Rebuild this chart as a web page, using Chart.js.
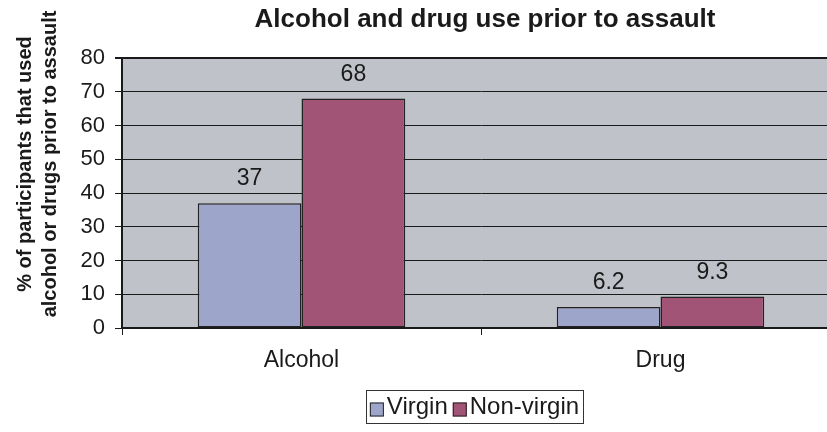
<!DOCTYPE html>
<html>
<head>
<meta charset="utf-8">
<script src="https://cdn.jsdelivr.net/npm/chart.js@4.4.0/dist/chart.umd.min.js"></script>
<style>
  html, body { margin: 0; padding: 0; overflow: hidden; background: #fff; }
  #wrap { width: 928px; height: 432px; }
</style>
</head>
<body>
<div id="wrap"><canvas id="chart" width="928" height="432"></canvas></div>
<script>
const categories = ['Alcohol', 'Drug'];
const seriesNames = ['Virgin', 'Non-virgin'];
const virginValues = [37, 6.2];
const nonVirginValues = [68, 9.3];
const yMin = 0;
const yMax = 80;
const yStep = 10;
const chartTitle = 'Alcohol and drug use prior to assault';
const yTitleLines = ['% of participants that used', 'alcohol or drugs prior to assault'];

const FONT = "'Liberation Sans', Arial, sans-serif";
const INK = '#1a1a1a';

// gray plot background
const plotBackground = {
    id: 'plotBackground',
    beforeDraw(chart) {
        const a = chart.chartArea;
        const ctx = chart.ctx;
        ctx.save();
        ctx.fillStyle = '#c0c2ca';
        ctx.fillRect(a.left, a.top, a.right - a.left, a.bottom - a.top);
        ctx.restore();
    }
};

// numbers above the bars
const valueLabels = {
    id: 'valueLabels',
    afterDatasetsDraw(chart) {
        const ctx = chart.ctx;
        ctx.save();
        ctx.font = '23px ' + FONT;
        ctx.fillStyle = INK;
        ctx.textAlign = 'center';
        ctx.textBaseline = 'alphabetic';
        chart.data.datasets.forEach((ds, i) => {
            chart.getDatasetMeta(i).data.forEach((bar, j) => {
                ctx.fillText(String(ds.data[j]), bar.x, bar.y - 18);
            });
        });
        ctx.restore();
    }
};

// chart title and the two line rotated y title
const titles = {
    id: 'titles',
    afterDraw(chart) {
        const ctx = chart.ctx;
        ctx.save();
        ctx.fillStyle = INK;
        ctx.textAlign = 'center';
        ctx.textBaseline = 'middle';
        ctx.font = 'bold 26px ' + FONT;
        ctx.fillText(chartTitle, 485, 20);

        ctx.font = 'bold 20px ' + FONT;
        const xs = [25, 50];
        yTitleLines.forEach((line, i) => {
            ctx.save();
            ctx.translate(xs[i], 164);
            ctx.rotate(-Math.PI / 2);
            ctx.fillText(line, 0, 0);
            ctx.restore();
        });
        ctx.restore();
    }
};

// boxed legend under the axis
const boxLegend = {
    id: 'boxLegend',
    afterDraw(chart) {
        const ctx = chart.ctx;
        ctx.save();
        ctx.font = '24px ' + FONT;
        const sq = 14, gap = 3, between = 5, pad = 4;
        const widths = seriesNames.map(n => ctx.measureText(n).width);
        let total = pad * 2 + between * (seriesNames.length - 1);
        widths.forEach(w => { total += sq + gap + w; });
        const cx = 474.5, top = 390, h = 33;
        let x = cx - total / 2;
        ctx.strokeStyle = '#333';
        ctx.lineWidth = 1;
        ctx.strokeRect(Math.round(x) + 0.5, top + 0.5, Math.round(total), h);
        x += pad;
        const mid = top + h / 2 + 1;
        chart.data.datasets.forEach((ds, i) => {
            ctx.fillStyle = ds.backgroundColor;
            ctx.fillRect(x, mid - sq / 2 + 2, sq, sq);
            ctx.strokeStyle = '#222';
            ctx.strokeRect(x + 0.5, mid - sq / 2 + 2.5, sq - 1, sq - 1);
            x += sq + gap;
            ctx.fillStyle = INK;
            ctx.textAlign = 'left';
            ctx.textBaseline = 'middle';
            ctx.fillText(seriesNames[i], x, mid);
            x += widths[i] + between;
        });
        ctx.restore();
    }
};

const ctx = document.getElementById('chart').getContext('2d');
new Chart(ctx, {
    type: 'bar',
    data: {
        labels: categories,
        datasets: [{
            label: seriesNames[0],
            data: virginValues,
            backgroundColor: '#9da5cb',
            borderColor: '#222',
            borderWidth: 1.5,
            borderSkipped: false,
            barPercentage: 1,
            categoryPercentage: 0.578
        }, {
            label: seriesNames[1],
            data: nonVirginValues,
            backgroundColor: '#a25477',
            borderColor: '#222',
            borderWidth: 1.5,
            borderSkipped: false,
            barPercentage: 1,
            categoryPercentage: 0.578
        }]
    },
    options: {
        responsive: false,
        animation: false,
        layout: { padding: { left: 0, right: 88, top: 58, bottom: 0 } },
        plugins: {
            legend: { display: false },
            tooltip: { enabled: false },
            title: { display: false }
        },
        scales: {
            x: {
                offset: true,
                grid: { drawOnChartArea: false, drawTicks: true, tickLength: 7, color: INK },
                border: { display: true, color: INK, width: 2 },
                ticks: { color: INK, font: { family: FONT, size: 23 }, padding: 12 },
                afterFit(scale) { scale.height = 104; }
            },
            y: {
                min: yMin,
                max: yMax,
                grid: {
                    color: INK,
                    lineWidth: c => (c.tick && c.tick.value === yMax ? 2 : 1),
                    tickLength: 7
                },
                border: { display: true, color: INK, width: 2 },
                ticks: { stepSize: yStep, color: INK, font: { family: FONT, size: 22 }, padding: 10 },
                afterFit(scale) { scale.width = 122; }
            }
        }
    },
    plugins: [plotBackground, valueLabels, titles, boxLegend]
});
</script>
</body>
</html>
